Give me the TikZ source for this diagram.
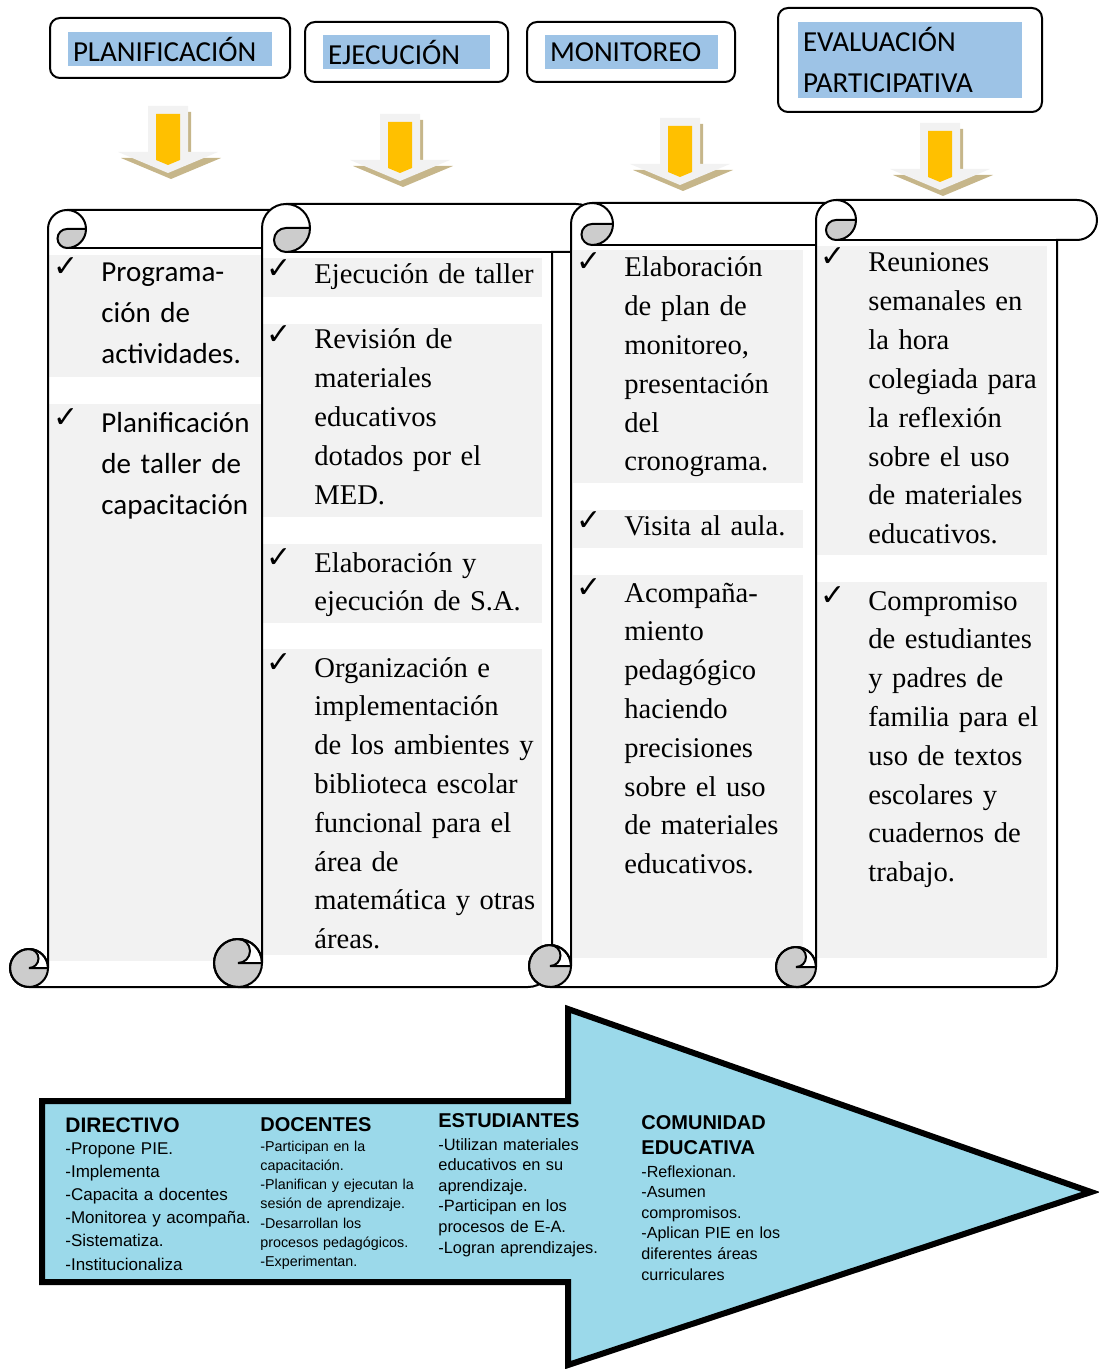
\documentclass[tikz,border=0pt]{standalone}
\usepackage{fontspec}
\setmainfont{Liberation Serif}
\newfontfamily\calibri{Carlito}
\newfontfamily\arial{Liberation Sans}
\newfontfamily\simbolos{DejaVu Sans}

\definecolor{azulcab}{HTML}{9DC3E6}
\definecolor{grisbloque}{HTML}{F2F2F2}
\definecolor{grisrizo}{HTML}{CCCCCC}
\definecolor{ocre}{HTML}{C6B68A}
\definecolor{amarillo}{HTML}{FFC000}
\definecolor{celeste}{HTML}{9BD9EA}

% contorno del pergamino: L R T r B opciones
\newcommand{\contorno}[6]{%
  \path[#6] (#1,{#3+#4}) arc[start angle=180,end angle=270,radius=#4]
    -- ({#2+#4},#3) arc[start angle=270,end angle=450,radius=#4]
    -- (#2,{#3+2*#4}) -- (#2,{#5-#4}) arc[start angle=0,end angle=90,radius=#4]
    -- ({#1-#4},#5) arc[start angle=90,end angle=360,radius=#4] -- cycle;}

% pergamino completo: L R T r B bloques
\newcommand{\rollo}[6]{%
  \contorno{#1}{#2}{#3}{#4}{#5}{fill=white}
  \fill[rizo] ({#1+#4},{#3+#4}) -- ({#1+2*#4},{#3+#4}) arc[start angle=0,end angle=90,radius=#4]
    arc[start angle=90,end angle=270,radius={#4/2}] -- cycle;
  \fill[rizo] ({#1-#4},{#5-#4}) circle[radius=#4];
  \fill[white] ({#1-#4},{#5-2*#4}) arc[start angle=270,end angle=450,radius={#4/2}]
    -- (#1,{#5-#4}) arc[start angle=0,end angle=-90,radius=#4] -- cycle;
  #6
  \contorno{#1}{#2}{#3}{#4}{#5}{borde}
  \draw[borde] ({#1+#4},#3) arc[start angle=270,end angle=360,radius=#4]
    arc[start angle=0,end angle=90,radius=#4]
    arc[start angle=90,end angle=270,radius={#4/2}] -- ({#1+2*#4},{#3+#4});
  \draw[borde] ({#1+#4},{#3+2*#4}) -- (#2,{#3+2*#4});
  \draw[borde] ({#1-#4},{#5-#4}) circle[radius=#4];
  \draw[borde] ({#1-#4},{#5-2*#4}) arc[start angle=270,end angle=450,radius={#4/2}] -- (#1,{#5-#4});
}

% flecha amarilla hacia abajo: centro, tope
\newcommand{\flechaabajo}[2]{%
  \fill[ocre] ({#1-17},{#2+6}) -- ({#1+23},{#2+6}) -- ({#1+23},{#2+52}) -- ({#1+53},{#2+52})
    -- ({#1+3},{#2+73}) -- ({#1-47},{#2+52}) -- ({#1-17},{#2+52}) -- cycle;
  \fill[grisbloque] ({#1-20},#2) -- ({#1+20},#2) -- ({#1+20},{#2+46}) -- ({#1+50},{#2+46})
    -- (#1,{#2+67}) -- ({#1-50},{#2+46}) -- ({#1-20},{#2+46}) -- cycle;
  \fill[amarillo] ({#1-12},{#2+8}) -- ({#1+12},{#2+8}) -- ({#1+12},{#2+54})
    -- (#1,{#2+59}) -- ({#1-12},{#2+54}) -- cycle;
}

% viñeta con check
\newcommand{\punto}[4]{%
  \node[#1] (#2) at (#3) {#4};
  \node[marca] (#2m) at ([xshift=-24pt,yshift=2.5pt]#2.base west) {✓};
}

\begin{document}
\begin{tikzpicture}[
    x=0.5pt, y=-0.5pt,
    borde/.style={draw=black, line width=1pt},
    rizo/.style={fill=grisrizo},
    bloque/.style={fill=grisbloque},
    caja/.style={draw=black, line width=1pt, rounded corners=5pt, fill=white},
    resalte/.style={fill=azulcab, inner xsep=2.5pt, inner ysep=1pt, minimum height=17pt,
      align=left, font=\calibri\fontsize{14.5}{20.5}\selectfont},
    texto1/.style={anchor=base west, inner sep=0pt, text width=150pt, align=left,
      font=\calibri\fontsize{14.5}{20.5}\selectfont},
    texto/.style={anchor=base west, inner sep=0pt, text width=150pt, align=left,
      font=\fontsize{14.3}{19.4}\selectfont},
    marca/.style={anchor=base west, inner sep=0pt, font=\simbolos\fontsize{15}{15}\selectfont},
    titulo/.style={anchor=base west, inner sep=0pt, text width=150pt, align=left,
      font=\arial\bfseries\fontsize{10}{12.5}\selectfont},
    lista/.style={anchor=base west, inner sep=0pt, text width=150pt, align=left},
    flechagrande/.style={draw=black, line width=3pt, fill=celeste}
  ]
  \useasboundingbox (0,0) rectangle (1098,1369);

  % --- CABECERAS ---
  \node[caja, minimum width=120pt, minimum height=30pt] (cplan) at (170,48) {};
  \node[resalte, text width=97pt] (plan) at (170,49) {PLANIFICACIÓN};
  \node[caja, minimum width=101.5pt, minimum height=30pt] (cejec) at (406.5,52) {};
  \node[resalte, text width=78.5pt] (ejec) at (406.5,52.5) {EJECUCIÓN};
  \node[caja, minimum width=104pt, minimum height=30pt] (cmoni) at (631,52) {};
  \node[resalte, text width=81.5pt] (moni) at (631.5,52.5) {MONITOREO};
  \node[caja, minimum width=132pt, minimum height=52pt] (ceval) at (910,60) {};
  \node[resalte, text width=107pt, minimum height=38pt] (eval) at (910,60) {EVALUACIÓN\\PARTICIPATIVA};

  % --- FLECHAS ---
  \foreach \cx/\ty in {168/106, 400/114, 680/118, 940/123}
    {\flechaabajo{\cx}{\ty}}

  % --- PERGAMINOS ---
  \rollo{48}{268}{210}{19}{987}{%
    \fill[bloque] (48,255) rectangle (268,377);
    \fill[bloque] (48,404) rectangle (268,961);}
  \rollo{262}{552}{204}{24}{987}{%
    \fill[bloque] (263,258) rectangle (542,297);
    \fill[bloque] (263,324) rectangle (542,517);
    \fill[bloque] (263,544) rectangle (542,623);
    \fill[bloque] (263,649) rectangle (542,955);}
  \rollo{571}{820}{203}{21}{987}{%
    \fill[bloque] (573,250) rectangle (803,483);
    \fill[bloque] (573,510) rectangle (803,548);
    \fill[bloque] (573,575) rectangle (803,958);}
  \rollo{816}{1057}{200}{20}{987}{%
    \fill[bloque] (817,246) rectangle (1047,555);
    \fill[bloque] (817,582) rectangle (1047,958);}

  % 1. Planificación
  \punto{texto1}{p1}{101,282}{Programa-\\ción de\\actividades.}
  \punto{texto1}{p2}{101,432}{Planificación\\de taller de\\capacitación}

  % 2. Ejecución
  \punto{texto}{e1}{314,284}{Ejecución de taller}
  \punto{texto}{e2}{314,349}{Revisión de\\materiales\\educativos\\dotados por el\\MED.}
  \punto{texto}{e3}{314,572}{Elaboración y\\ejecución de S.A.}
  \punto{texto}{e4}{314,677}{Organización e\\implementación\\de los ambientes y\\biblioteca escolar\\funcional para el\\área de\\matemática y otras\\áreas.}

  % 3. Monitoreo
  \punto{texto}{m1}{624,277}{Elaboración\\de plan de\\monitoreo,\\presentación\\del\\cronograma.}
  \punto{texto}{m2}{624,535}{Visita al aula.}
  \punto{texto}{m3}{624,602}{Acompaña-\\miento\\pedagógico\\haciendo\\precisiones\\sobre el uso\\de materiales\\educativos.}

  % 4. Evaluación
  \punto{texto}{v1}{868,272}{Reuniones\\semanales en\\la hora\\colegiada para\\la reflexión\\sobre el uso\\de materiales\\educativos.}
  \punto{texto}{v2}{868,610}{Compromiso\\de estudiantes\\y padres de\\familia para el\\uso de textos\\escolares y\\cuadernos de\\trabajo.}

  % --- FLECHA GRANDE ---
  \draw[flechagrande] (42,1101) -- (568,1101) -- (568,1009) -- (1091,1192)
    -- (568,1365) -- (568,1282) -- (42,1282) -- cycle;

  \node[titulo, font=\arial\bfseries\fontsize{10.5}{12.5}\selectfont] (tdir) at (65,1132) {DIRECTIVO};
  \node[lista, font=\arial\fontsize{8.5}{11.6}\selectfont] (ldir) at (65,1154)
    {-Propone PIE.\\-Implementa\\-Capacita a docentes\\-Monitorea y acompaña.\\-Sistematiza.\\-Institucionaliza};
  \node[titulo] (tdoc) at (260,1131) {DOCENTES};
  \node[lista, font=\arial\fontsize{7.15}{9.65}\selectfont] (ldoc) at (260,1151)
    {-Participan en la\\capacitación.\\-Planifican y ejecutan la\\sesión de aprendizaje.\\-Desarrollan los\\procesos pedagógicos.\\-Experimentan.};
  \node[titulo] (test) at (438,1127) {ESTUDIANTES};
  \node[lista, font=\arial\fontsize{8.2}{10.3}\selectfont] (lest) at (438,1150)
    {-Utilizan materiales\\educativos en su\\aprendizaje.\\-Participan en los\\procesos de E-A.\\-Logran aprendizajes.};
  \node[titulo] (tcom) at (641,1129) {COMUNIDAD\\EDUCATIVA};
  \node[lista, font=\arial\fontsize{8.05}{10.3}\selectfont] (lcom) at (641,1177)
    {-Reflexionan.\\-Asumen\\compromisos.\\-Aplican PIE en los\\diferentes áreas\\curriculares};

\end{tikzpicture}
\end{document}
